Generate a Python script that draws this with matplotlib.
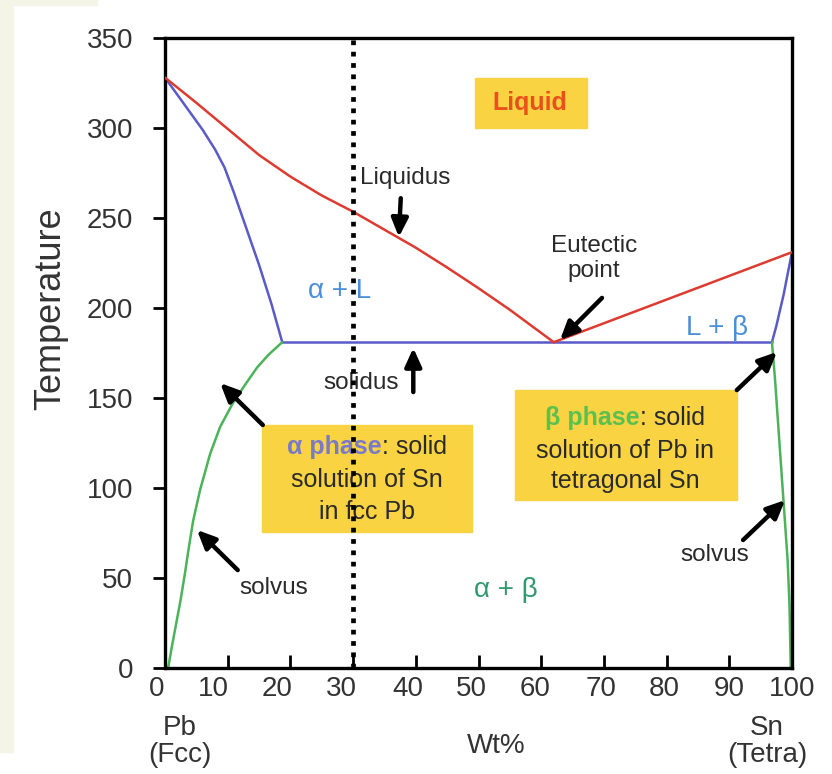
import matplotlib
matplotlib.use("Agg")
import matplotlib.pyplot as plt
from matplotlib.patches import Rectangle
from matplotlib.transforms import ScaledTranslation

plt.rcParams['font.family'] = ['Liberation Sans', 'DejaVu Sans']

# ---- phase boundary data (wt% Sn, temperature in °C) ----
liquidus_left_x = [0, 5, 10, 15, 20, 25, 30, 35, 40, 45, 50, 55, 62]
liquidus_left_T = [328, 314, 299.5, 285, 273, 262.5, 253.5, 243.5, 233.5, 222.5, 211, 199, 181]
liquidus_right_x = [62, 100]
liquidus_right_T = [181, 231]

solidus_alpha_x = [0, 3, 6, 8, 9.5, 11, 13, 15, 17, 18.7]
solidus_alpha_T = [328, 313.5, 299, 288, 278, 264, 244, 224, 202, 181]
eutectic_x = [18.7, 96.8]
eutectic_T = [181, 181]
solidus_beta_x = [96.8, 97.5, 98.1, 98.7, 99.2, 99.6, 100]
solidus_beta_T = [181, 190, 199, 208, 217, 224, 231]

solvus_alpha_x = [18.7, 16.5, 14.7, 12.7, 10.8, 8.8, 7.2, 5.6, 4.5, 3.8, 3.2, 2.5, 1.8, 1.1, 0.5]
solvus_alpha_T = [181, 174, 167, 157, 147, 134, 119, 99, 82, 67, 53, 38, 25, 12, 0]
solvus_beta_x = [96.8, 97.3, 97.8, 98.3, 98.8, 99.3, 99.6, 99.8]
solvus_beta_T = [181, 160, 135, 110, 85, 60, 35, 0]

composition_line = 30

x_ticks = [0, 10, 20, 30, 40, 50, 60, 70, 80, 90, 100]
y_ticks = [0, 50, 100, 150, 200, 250, 300, 350]

RED = '#dd3b30'
BLUE = '#5a5ac8'
GREEN = '#4cb35a'
YELLOW = '#f9d342'
TXT = '#2a2a2a'

fig = plt.figure(figsize=(8.32, 7.74), dpi=100)
fig.patch.set_facecolor('white')
# pale page strips along the left and top-left edge
fig.patches.append(Rectangle((0, 1 - 752 / 774), 13 / 832, 752 / 774,
                             transform=fig.transFigure, color='#f4f5e6', zorder=0))
fig.patches.append(Rectangle((0, 1 - 5 / 774), 97 / 832, 5 / 774,
                             transform=fig.transFigure, color='#f4f5e6', zorder=0))

ax = fig.add_axes([165 / 832, 1 - 668 / 774, 627 / 832, 630 / 774])
ax.set_xlim(0, 100)
ax.set_ylim(0, 350)

lw = 1.8
curve = dict(lw=lw, solid_joinstyle='round', solid_capstyle='round')
ax.plot(liquidus_left_x, liquidus_left_T, color=RED, zorder=3, **curve)
ax.plot(liquidus_right_x, liquidus_right_T, color=RED, zorder=3, **curve)
ax.plot(solidus_alpha_x, solidus_alpha_T, color=BLUE, zorder=2, **curve)
ax.plot(eutectic_x, eutectic_T, color=BLUE, zorder=2, **curve)
ax.plot(solidus_beta_x, solidus_beta_T, color=BLUE, zorder=2, **curve)
ax.plot(solvus_alpha_x, solvus_alpha_T, color=GREEN, zorder=2, **curve)
ax.plot(solvus_beta_x, solvus_beta_T, color=GREEN, zorder=2, **curve)

ax.axvline(composition_line, color='black', lw=3.4, linestyle=(0, (1, 1.4)), zorder=6)

for s in ax.spines.values():
    s.set_linewidth(2.4)
    s.set_color('black')

ax.set_xticks(x_ticks)
ax.set_yticks(y_ticks)
ax.tick_params(axis='x', direction='in', length=9.5, width=2, pad=6,
               labelsize=20, labelcolor='#333333', top=False)
ax.tick_params(axis='y', direction='out', length=9, width=2, pad=14,
               labelsize=20, labelcolor='#333333', right=False)
# nudge the left-hand tick labels slightly leftwards
x_label_shift = [-8, -14, -13, -12, -8, -7, -6, -3, -2, 0, 0]
for tick, dx in zip(ax.xaxis.get_major_ticks(), x_label_shift):
    tick.label1.set_transform(tick.label1.get_transform()
                              + ScaledTranslation(dx / 100, 0, fig.dpi_scale_trans))

ax.set_ylabel('Temperature', fontsize=26, color='#333333', va='center')
ax.yaxis.set_label_coords(-0.182, 0.57)
ax.set_xlabel('Wt%', fontsize=20, color='#333333', va='center')
ax.xaxis.set_label_coords(0.528, -0.124)
ax.text(0.024, -0.116, 'Pb\n(Fcc)', transform=ax.transAxes, ha='center', va='center',
        fontsize=20, color='#333333', linespacing=1.05)
ax.text(0.960, -0.116, 'Sn\n(Tetra)', transform=ax.transAxes, ha='center', va='center',
        fontsize=20, color='#333333', linespacing=1.05)

# region labels
ax.add_patch(Rectangle((49.4, 300), 17.9, 27.8, color=YELLOW, zorder=4))
ax.text(58.2, 313.9, 'Liquid', ha='center', va='center', fontsize=18,
        fontweight='bold', color='#e8501c', zorder=5)
ax.text(27.9, 209.4, 'α + L', ha='center', va='center', fontsize=20, color='#4a8fd8')
ax.text(88.0, 188.9, 'L + β', ha='center', va='center', fontsize=20, color='#4a8fd8')
ax.text(54.4, 43.3, 'α + β', ha='center', va='center', fontsize=20, color='#2e9a6e')

arrow = dict(arrowstyle='-|>,head_length=0.55,head_width=0.25', mutation_scale=20,
             lw=3.2, color='black', shrinkA=0, shrinkB=0)

ax.text(38.3, 272.2, 'Liquidus', ha='center', va='center', fontsize=17.5, color=TXT)
ax.annotate('', xy=(37.3, 239.4), xytext=(37.6, 261), arrowprops=arrow, zorder=5)

ax.text(68.4, 227.5, 'Eutectic\npoint', ha='center', va='center', fontsize=17.5,
        color=TXT, linespacing=1.15)
ax.annotate('', xy=(63, 182.2), xytext=(69.7, 205.6), arrowprops=arrow, zorder=5)

ax.text(31.3, 158.3, 'solidus', ha='center', va='center', fontsize=17.5, color=TXT)
ax.annotate('', xy=(39.6, 177.8), xytext=(39.6, 153.3), arrowprops=arrow, zorder=5)

ax.text(17.4, 44.4, 'solvus', ha='center', va='center', fontsize=17.5, color=TXT)
ax.annotate('', xy=(5.1, 76.7), xytext=(11.6, 54.4), arrowprops=arrow, zorder=5)

ax.text(87.7, 62.8, 'solvus', ha='center', va='center', fontsize=17.5, color=TXT)
ax.annotate('', xy=(98.9, 93.3), xytext=(92.2, 71.1), arrowprops=arrow, zorder=5)

ax.annotate('', xy=(8.8, 158.3), xytext=(15.6, 135), arrowprops=arrow, zorder=5)
ax.annotate('', xy=(97.6, 175.6), xytext=(91.2, 154.4), arrowprops=arrow, zorder=5)

# phase description boxes
ax.add_patch(Rectangle((15.5, 75.6), 33.5, 59.4, color=YELLOW, zorder=4))
ax.add_patch(Rectangle((55.8, 93.3), 35.4, 61.1, color=YELLOW, zorder=4))

fig.canvas.draw()
renderer = fig.canvas.get_renderer()


def rich_line(x, y, parts, size):
    texts = [ax.text(x, y, s, ha='left', va='center', fontsize=size, zorder=5, **kw)
             for s, kw in parts]
    widths = [t.get_window_extent(renderer).width for t in texts]
    xd, yd = ax.transData.transform((x, y))
    cur = xd - sum(widths) / 2
    inv = ax.transData.inverted()
    for t, w in zip(texts, widths):
        t.set_position(inv.transform((cur, yd)))
        cur += w


box_size = 18
rich_line(32.2, 122.8, [('α phase', dict(color='#7a7ac8', fontweight='bold')),
                        (': solid', dict(color=TXT))], box_size)
ax.text(32.2, 104.4, 'solution of Sn', ha='center', va='center', fontsize=box_size,
        color=TXT, zorder=5)
ax.text(32.2, 86.7, 'in fcc Pb', ha='center', va='center', fontsize=box_size,
        color=TXT, zorder=5)

rich_line(73.4, 138.9, [('β phase', dict(color='#5cc050', fontweight='bold')),
                        (': solid', dict(color=TXT))], box_size)
ax.text(73.4, 120.6, 'solution of Pb in', ha='center', va='center', fontsize=box_size,
        color=TXT, zorder=5)
ax.text(73.4, 103.9, 'tetragonal Sn', ha='center', va='center', fontsize=box_size,
        color=TXT, zorder=5)

fig.savefig('out.png', dpi=100)
